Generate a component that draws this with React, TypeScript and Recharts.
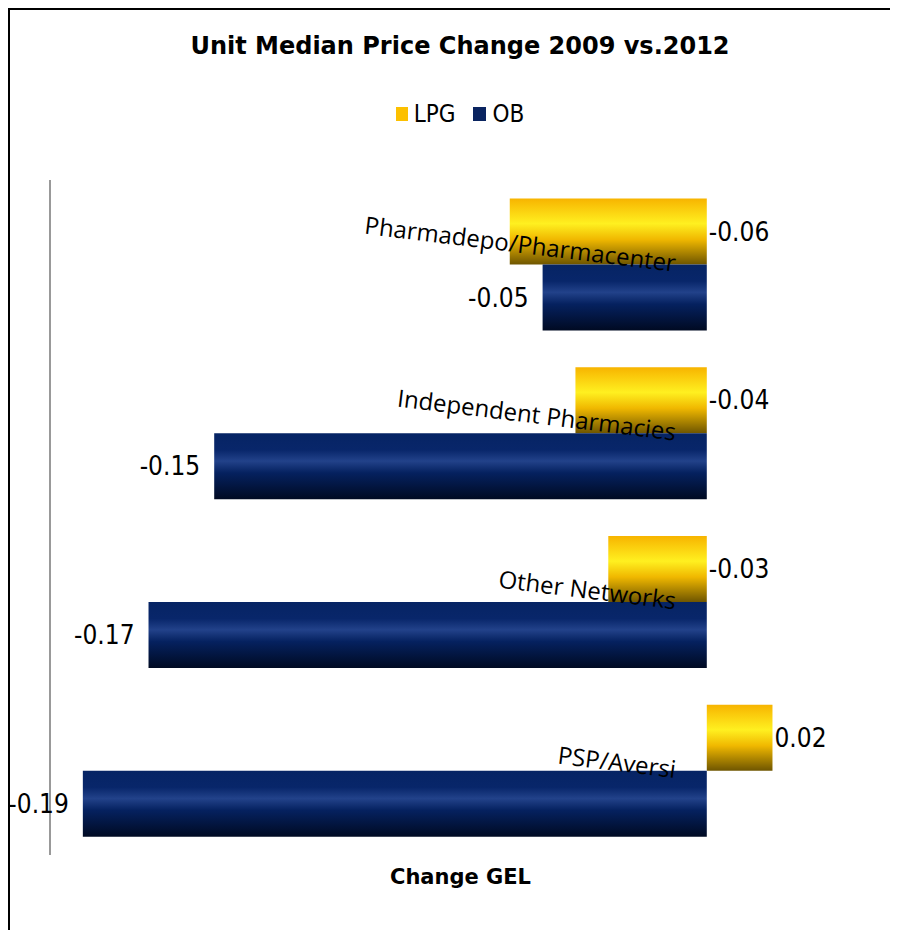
import { BarChart, Bar, XAxis, YAxis, LabelList } from "recharts";

// categories top to bottom, as in the picture
const categories = ["Pharmadepo/Pharmacenter", "Independent Pharmacies", "Other Networks", "PSP/Aversi"];
const lpgValues = [-0.06, -0.04, -0.03, 0.02];
const obValues = [-0.05, -0.15, -0.17, -0.19];

const data = categories.map((name, i) => ({ name, LPG: lpgValues[i], OB: obValues[i] }));

const LABEL_FONT = "'Liberation Sans Narrow', 'DejaVu Sans Condensed', sans-serif";
const TITLE_FONT = "'DejaVu Sans', sans-serif";

const CategoryTick = (props: any) => {
  const { y, payload } = props;
  const lx = 668;
  const ly = y - 2;
  return (
    <text
      x={lx}
      y={ly}
      transform={`rotate(7 ${lx} ${ly})`}
      textAnchor="end"
      dominantBaseline="central"
      fontFamily="'Open Sans', sans-serif"
      fontSize={24}
      fill="#000"
    >
      {payload.value}
    </text>
  );
};

const renderLpgLabel = (props: any) => {
  const { x, y, width, height, value } = props;
  const right = Math.max(x, x + width);
  return (
    <text x={right + 2} y={y + height / 2} textAnchor="start" dominantBaseline="central"
      fontFamily={LABEL_FONT} fontSize={26} fill="#000">
      {Number(value).toFixed(2)}
    </text>
  );
};

const renderObLabel = (props: any) => {
  const { x, y, width, height, value } = props;
  const left = Math.min(x, x + width);
  return (
    <text x={left - 14} y={y + height / 2} textAnchor="end" dominantBaseline="central"
      fontFamily={LABEL_FONT} fontSize={26} fill="#000">
      {Number(value).toFixed(2)}
    </text>
  );
};

export default function App() {
  return (
    <div style={{ position: "relative", width: 890, height: 922 }}>
      <div
        style={{
          position: "absolute", left: 0, top: 0, width: 890, height: 922, boxSizing: "border-box",
          borderLeft: "2px solid #000", borderTop: "2px solid #000", borderRight: "2px solid #000",
        }}
      />
      <div
        style={{
          position: "absolute", left: 0, top: 24, width: 904, textAlign: "center",
          fontFamily: TITLE_FONT, fontWeight: "bold", fontSize: 24, color: "#000",
        }}
      >
        Unit Median Price Change 2009 vs.2012
      </div>
      <div
        style={{
          position: "absolute", left: 0, top: 92, width: 904, display: "flex", justifyContent: "center",
          alignItems: "center", fontFamily: LABEL_FONT, fontSize: 24, color: "#000",
        }}
      >
        <span style={{ display: "inline-block", width: 12, height: 14, background: "#fcc000", marginRight: 6 }} />
        <span style={{ marginRight: 18 }}>LPG</span>
        <span style={{ display: "inline-block", width: 13, height: 14, background: "#0a2460", marginRight: 6 }} />
        <span>OB</span>
      </div>
      <div style={{ position: "absolute", left: 0, top: 0 }}>
        <BarChart
          width={890}
          height={922}
          data={data}
          layout="vertical"
          margin={{ top: 172, right: 27, left: 41, bottom: 15 }}
          barCategoryGap="11%"
          barGap={0}
        >
          <defs>
            <linearGradient id="lpgFill" x1="0" y1="0" x2="0" y2="1">
              <stop offset="0%" stopColor="#f7b400" />
              <stop offset="38%" stopColor="#fff020" />
              <stop offset="62%" stopColor="#f0b800" />
              <stop offset="100%" stopColor="#6e5500" />
            </linearGradient>
            <linearGradient id="obFill" x1="0" y1="0" x2="0" y2="1">
              <stop offset="0%" stopColor="#062464" />
              <stop offset="25%" stopColor="#08266a" />
              <stop offset="42%" stopColor="#22428a" />
              <stop offset="60%" stopColor="#05215f" />
              <stop offset="100%" stopColor="#000a22" />
            </linearGradient>
          </defs>
          <XAxis
            type="number"
            domain={[-0.2, 0.05]}
            tick={false}
            axisLine={false}
            tickLine={false}
            height={60}
            label={{
              value: "Change GEL",
              position: "insideTop",
              offset: 14,
              fill: "#000",
              fontFamily: TITLE_FONT,
              fontWeight: "bold",
              fontSize: 21,
            }}
          />
          <YAxis
            type="category"
            dataKey="name"
            width={1}
            axisLine={{ stroke: "#999", strokeWidth: 2 }}
            tickLine={false}
            tick={<CategoryTick />}
          />
          <Bar dataKey="LPG" name="LPG" fill="url(#lpgFill)" isAnimationActive={false}>
            <LabelList dataKey="LPG" content={renderLpgLabel} />
          </Bar>
          <Bar dataKey="OB" name="OB" fill="url(#obFill)" isAnimationActive={false}>
            <LabelList dataKey="OB" content={renderObLabel} />
          </Bar>
        </BarChart>
      </div>
    </div>
  );
}
